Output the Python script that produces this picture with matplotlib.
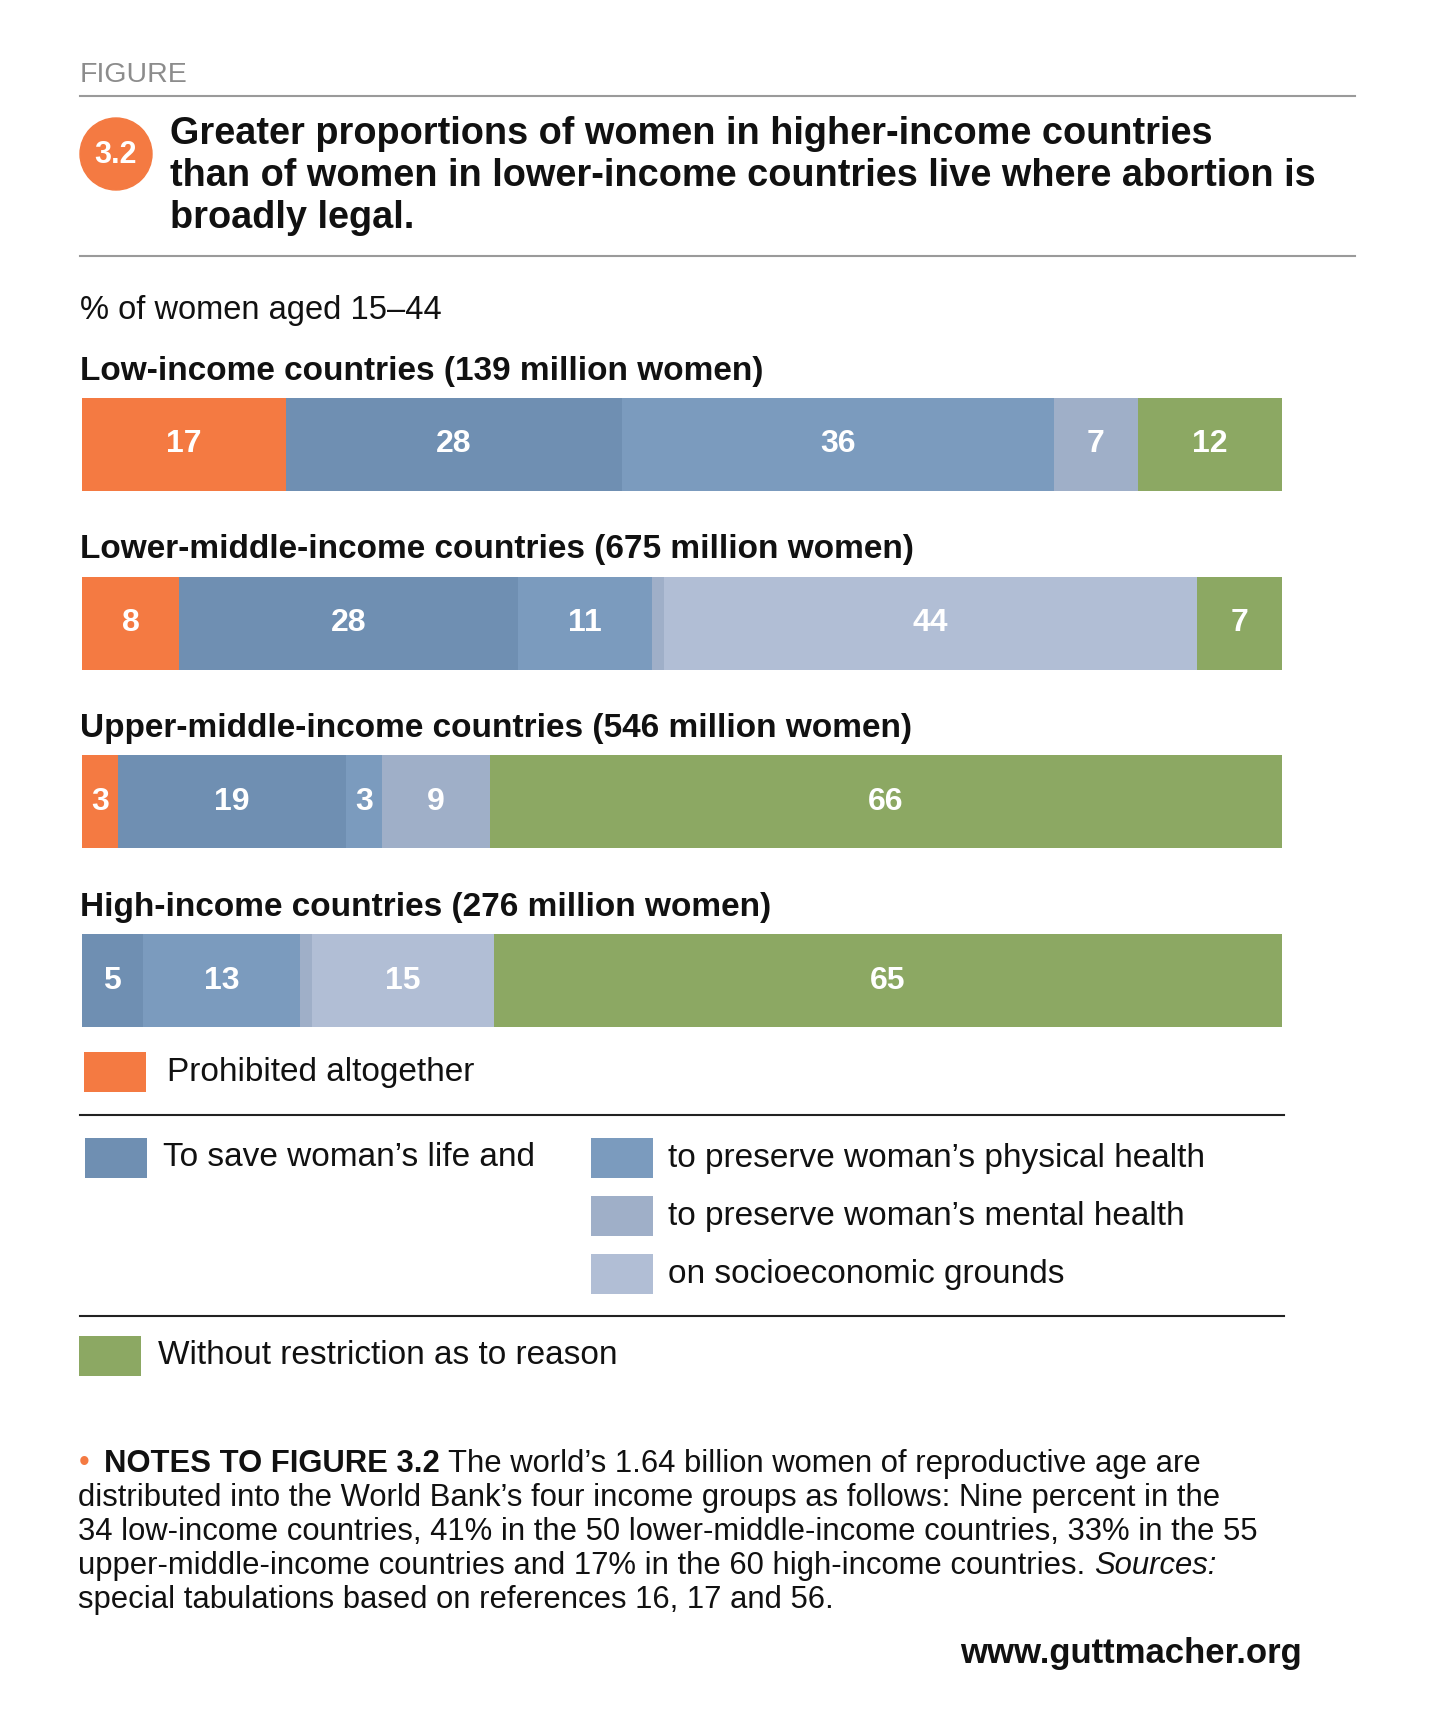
import matplotlib
matplotlib.use("Agg")
import matplotlib.pyplot as plt
from matplotlib.patches import Rectangle, Circle
import numpy as np

# ---- data ----
groups = ["Low-income countries (139 million women)",
          "Lower-middle-income countries (675 million women)",
          "Upper-middle-income countries (546 million women)",
          "High-income countries (276 million women)"]
categories = ["Prohibited altogether", "To save woman’s life and",
              "to preserve woman’s physical health", "to preserve woman’s mental health",
              "on socioeconomic grounds", "Without restriction as to reason"]
prohibited = [17, 8, 3, 0]
save_life = [28, 28, 19, 5]
physical = [36, 11, 3, 13]
mental = [7, 1, 9, 1]
socioeconomic = [0, 44, 0, 15]
no_restriction = [12, 7, 66, 65]
colors = ["#F47A42", "#6F8FB2", "#7B9BBE", "#9FAFC8", "#B1BED5", "#8CA863"]

notes = [
    [("bold", "NOTES TO FIGURE 3.2 "), ("normal", "The world’s 1.64 billion women of reproductive age are")],
    [("normal", "distributed into the World Bank’s four income groups as follows: Nine percent in the")],
    [("normal", "34 low-income countries, 41% in the 50 lower-middle-income countries, 33% in the 55")],
    [("normal", "upper-middle-income countries and 17% in the 60 high-income countries. "), ("italic", "Sources:")],
    [("normal", "special tabulations based on references 16, 17 and 56.")],
]

SANS = ["Liberation Sans", "DejaVu Sans"]
NARROW = ["Liberation Sans Narrow", "Liberation Sans", "DejaVu Sans"]
plt.rcParams['font.family'] = SANS

W, H = 1434, 1729
fig = plt.figure(figsize=(W / 100, H / 100), dpi=100)
bg = fig.add_axes([0, 0, 1, 1])
bg.set_xlim(0, W)
bg.set_ylim(H, 0)
bg.axis("off")

# ---- header ----
bg.text(80, 75, "FIGURE", fontsize=20.5, color="#8c8c8c", va="center", family=NARROW)
bg.plot([80, 1355], [96, 96], color="#9a9a9a", lw=1.5)
bg.add_patch(Circle((116, 154), 36, color=colors[0]))
bg.text(116, 155, "3.2", fontsize=22, color="white", fontweight="bold",
        ha="center", va="center", family=NARROW)
title = ["Greater proportions of women in higher-income countries",
         "than of women in lower-income countries live where abortion is",
         "broadly legal."]
for i, line in enumerate(title):
    bg.text(170, 134 + 42 * i, line, fontsize=27.3, fontweight="bold", color="#111111",
            va="center")
bg.plot([80, 1355], [256, 256], color="#9a9a9a", lw=1.5)
bg.text(80, 310, "% of women aged 15–44", fontsize=23.5, color="#111111", va="center")

# ---- bars (each row shown as share of its total) ----
left_px, right_px = 82, 1282
top_px, bot_px = 398, 1027
ax = fig.add_axes([left_px / W, 1 - bot_px / H, (right_px - left_px) / W, (bot_px - top_px) / H])
series = [np.array(s, dtype=float) for s in
          [prohibited, save_life, physical, mental, socioeconomic, no_restriction]]
totals = np.sum(series, axis=0)
n = len(groups)
ypos = np.arange(n)
bh = 0.52
left = np.zeros(n)
for vals, col in zip(series, colors):
    share = vals / totals * 100
    ax.barh(ypos, share, left=left, height=bh, color=col, edgecolor="none")
    for y, v, s, l in zip(ypos, vals, share, left):
        if v >= 2:
            ax.text(l + s / 2, y, f"{int(v)}", ha="center", va="center", color="white",
                    fontsize=23, fontweight="bold", family=NARROW)
    left += share
ax.set_xlim(0, 100)
ax.set_ylim(n - 1 + bh / 2, -bh / 2)
ax.axis("off")
for y, g in zip(ypos, groups):
    ax.text(-0.15, y - 0.41, g, fontsize=24, fontweight="bold", color="#111111",
            va="center", clip_on=False)

# ---- legend ----
def swatch(x, y, col, label, tx):
    bg.add_patch(Rectangle((x, y - 20), 62, 40, color=col, lw=0))
    bg.text(tx, y, label, fontsize=24, color="#111111", va="center")

swatch(84, 1072, colors[0], categories[0], 167)
bg.plot([80, 1284], [1115, 1115], color="#222222", lw=1.5)
swatch(85, 1158, colors[1], categories[1], 163)
for k, yy in zip(range(2, 5), [1158, 1216, 1274]):
    swatch(591, yy, colors[k], categories[k], 668)
bg.plot([80, 1284], [1316, 1316], color="#222222", lw=1.5)
swatch(79, 1356, colors[5], categories[5], 158)

# ---- notes ----
fig.canvas.draw()
renderer = fig.canvas.get_renderer()
inv = bg.transData.inverted()
bg.text(79, 1463, "•", fontsize=22, color=colors[0], va="center")
for i, parts in enumerate(notes):
    x = 104 if i == 0 else 78
    y = 1464 + 34 * i
    for style, txt in parts:
        kw = dict(fontsize=22.3, color="#111111", va="center")
        if style == "bold":
            kw["fontweight"] = "bold"
        elif style == "italic":
            kw["fontstyle"] = "italic"
        t = bg.text(x, y, txt, **kw)
        bb = t.get_window_extent(renderer)
        x = inv.transform((bb.x1, bb.y0))[0]

bg.text(1302, 1653, "www.guttmacher.org", fontsize=25, fontweight="bold", color="#111111",
        ha="right", va="center")

fig.savefig("out.png", dpi=100)
